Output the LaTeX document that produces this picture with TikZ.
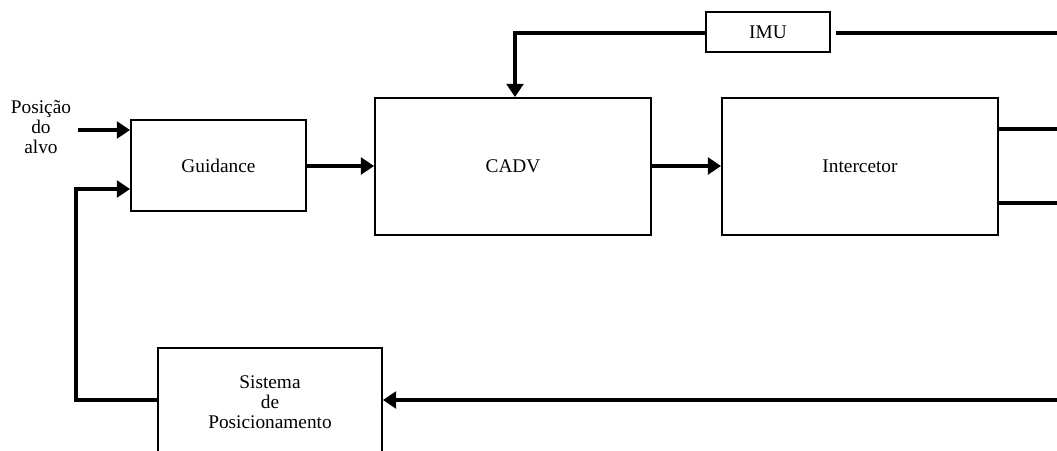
\documentclass[tikz,border=0pt]{standalone}
\usepackage{fontspec}
\setmainfont{Liberation Serif}
\usetikzlibrary{arrows.meta}
\tikzset{
 blk/.style={draw=black, line width=1.1pt, inner sep=0pt},
 sig/.style={draw=black, line width=2pt},
 sigarr/.style={sig, -{Triangle[length=7.5pt,width=9.5pt]}}
}
\begin{document}
\begin{tikzpicture}[x=0.02cm, y=-0.02cm, font=\fontsize{11}{11.5}\selectfont]
 \useasboundingbox (0,0) rectangle (1057,450);
 \node[blk, minimum width=3.5cm, minimum height=1.82cm] (guid) at (218.5,165.5) {Guidance};
 \node[blk, minimum width=5.52cm, minimum height=2.74cm] (cadv) at (513,166.5) {CADV};
 \node[blk, minimum width=5.52cm, minimum height=2.74cm] (inter) at (860,166.5) {Intercetor};
 \node[blk, minimum width=2.48cm, minimum height=0.8cm] (imu) at (768,32) {IMU};
 \node[blk, minimum width=4.48cm, minimum height=2.16cm, align=center] (sist) at (270,402) {Sistema\\de\\Posicionamento};
 \node[align=center] (alvo) at (41,127) {Posição\\do\\alvo};
 \coordinate (inpt) at (78,130);
 \coordinate (fb) at (76,189);
 \coordinate (imuout) at (1057,33);
 \coordinate (outa) at (1057,129);
 \coordinate (outb) at (1057,203);
 \coordinate (posin) at (1057,400);
 \draw[sigarr] (inpt) -- (inpt -| guid.west);
 \draw[sigarr] (sist.west |- posin) -| (fb) -- (fb -| guid.west);
 \draw[sigarr] (guid.east |- 0,166) -- (cadv.west |- 0,166);
 \draw[sigarr] (cadv.east |- 0,166) -- (inter.west |- 0,166);
 \draw[sigarr] (imu.west |- imuout) -| (cadv.north -| 515,0);
 \draw[sig] ([xshift=3pt]imu.east |- imuout) -- (imuout);
 \draw[sig] (inter.east |- outa) -- (outa);
 \draw[sig] (inter.east |- outb) -- (outb);
 \draw[sigarr] (posin) -- (sist.east |- posin);
\end{tikzpicture}
\end{document}
